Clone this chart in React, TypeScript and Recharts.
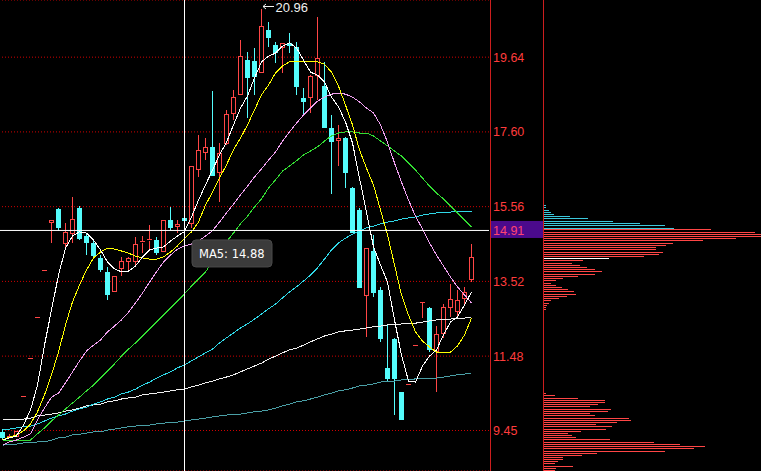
import React from 'react';
import {
  ComposedChart,
  Bar,
  Line,
  Scatter,
  XAxis,
  YAxis,
  CartesianGrid,
  ReferenceLine,
  ReferenceDot,
} from 'recharts';

// daily candles, oldest first
const openPrice = [
  9.41, 9.29, 9.3, 10.38, 11.42, 12.56, 13.82, 15.13, 15.5, 14.57,
  14.84, 15.52, 14.76, 14.57, 14.16, 13.78, 13.26, 13.89, 14.08, 14.08,
  14.6, 14.64, 14.65, 14.35, 15.2, 15.03, 15.25, 15.11, 16.59, 17.05,
  17.19, 16.51, 17.3, 18.12, 18.63, 19.56, 19.53, 19.23, 20.38, 19.97,
  19.92, 20.03, 19.92, 18.53, 18.55, 19.15, 18.85, 17.71, 17.38, 17.43,
  16.07, 15.47, 13.15, 14.35, 13.29, 11.16, 11.95, 10.5, 10.71, 11.78,
  12.96, 12.79, 11.62, 12.11, 12.82, 12.71, 13.07, 13.59,
];
const highPrice = [
  9.49, 9.36, 9.44, 10.38, 11.42, 12.56, 13.82, 15.2, 15.52, 15.11,
  15.82, 15.58, 14.84, 14.65, 14.24, 13.91, 13.67, 14.19, 14.19, 14.73,
  14.76, 15.06, 14.73, 15.2, 15.55, 15.2, 15.41, 16.67, 17.52, 17.43,
  18.72, 17.3, 18.2, 18.74, 20.11, 19.78, 19.89, 20.96, 20.6, 20.05,
  20.03, 20.3, 20.05, 18.8, 19.15, 20.74, 19.51, 18.06, 17.79, 17.46,
  16.1, 15.52, 14.43, 14.79, 13.37, 12.33, 11.97, 10.5, 10.71, 11.78,
  12.96, 12.82, 12.3, 12.9, 13.45, 13.29, 13.37, 14.54,
];
const lowPrice = [
  9.22, 9.25, 9.3, 10.38, 11.42, 12.56, 13.82, 14.57, 14.9, 14.46,
  14.57, 14.65, 14.24, 14.16, 13.78, 13.01, 13.24, 13.67, 13.78, 13.91,
  14.3, 14.38, 14.24, 14.35, 14.92, 14.84, 14.98, 14.98, 16.37, 16.83,
  16.4, 15.69, 17.24, 17.92, 18.63, 17.98, 18.61, 19.23, 19.92, 19.48,
  19.21, 19.75, 18.61, 18.06, 18.12, 18.47, 17.71, 15.9, 16.67, 16.07,
  14.84, 13.34, 12.0, 13.09, 11.87, 10.77, 9.87, 9.74, 10.71, 11.78,
  12.52, 11.6, 10.5, 11.97, 12.55, 12.52, 12.88, 13.5,
];
const closePrice = [
  9.25, 9.31, 9.44, 10.38, 11.42, 12.56, 13.82, 15.2, 14.98, 14.87,
  15.22, 14.68, 14.57, 14.21, 13.83, 13.15, 13.67, 14.08, 14.16, 14.54,
  14.63, 14.67, 14.3, 15.2, 14.98, 15.09, 15.17, 16.67, 17.11, 17.19,
  16.4, 17.02, 18.09, 18.55, 19.67, 19.07, 19.1, 20.49, 20.16, 19.75,
  20.03, 19.95, 18.83, 18.42, 19.13, 19.62, 17.71, 17.32, 17.42, 16.48,
  14.84, 13.34, 14.43, 13.2, 11.95, 10.86, 10.86, 9.74, 10.71, 11.78,
  12.96, 11.65, 12.08, 12.82, 13.04, 13.01, 13.23, 14.19,
];

// moving averages as drawn on the chart
const ma5 = [
  9.19, 9.25, 9.3, 9.6, 10.01, 10.69, 11.78, 12.74, 13.69, 14.43,
  14.76, 14.87, 14.84, 14.65, 14.38, 14.05, 13.86, 13.78, 13.8, 13.94,
  14.19, 14.38, 14.43, 14.46, 14.62, 14.76, 14.88, 15.28, 15.74, 16.15,
  16.56, 16.97, 17.32, 17.79, 18.25, 18.58, 19.07, 19.51, 19.67, 19.75,
  19.94, 20.03, 19.89, 19.56, 19.23, 19.15, 18.96, 18.55, 18.28, 17.87,
  17.3, 16.34, 15.41, 14.46, 13.97, 13.5, 12.47, 11.51, 10.8, 10.77,
  11.21, 11.48, 11.65, 12.06, 12.41, 12.55, 12.88, 13.23,
];
const ma10 = [
  9.19, 9.27, 9.33, 9.44, 9.63, 9.96, 10.42, 10.97, 11.59, 12.33,
  12.96, 13.42, 13.83, 14.16, 14.32, 14.43, 14.4, 14.35, 14.29, 14.21,
  14.16, 14.13, 14.13, 14.19, 14.32, 14.49, 14.7, 14.87, 15.14, 15.6,
  15.96, 16.34, 16.7, 17.11, 17.43, 17.79, 18.2, 18.61, 18.88, 19.21,
  19.4, 19.51, 19.51, 19.51, 19.51, 19.51, 19.45, 19.23, 18.85, 18.33,
  17.79, 17.11, 16.61, 16.15, 15.47, 14.79, 13.97, 13.15, 12.6, 12.14,
  11.89, 11.73, 11.59, 11.57, 11.59, 11.76, 12.06, 12.52,
];
const ma20 = [
  9.05, 9.14, 9.19, 9.27, 9.36, 9.74, 10.06, 10.36, 10.47, 10.75,
  11.05, 11.35, 11.62, 11.78, 11.92, 12.14, 12.3, 12.47, 12.68, 12.93,
  13.2, 13.5, 13.78, 14.05, 14.24, 14.4, 14.49, 14.54, 14.62, 14.76,
  14.9, 15.14, 15.39, 15.63, 15.88, 16.12, 16.37, 16.59, 16.83, 17.05,
  17.35, 17.6, 17.84, 18.06, 18.25, 18.44, 18.55, 18.63, 18.66, 18.63,
  18.55, 18.42, 18.25, 18.12, 17.79, 17.32, 16.75, 16.23, 15.74, 15.3,
  14.95, 14.57, 14.24, 13.94, 13.64, 13.37, 13.15, 12.93,
];
const ma30 = [
  9.19, 9.19, 9.19, 9.19, 9.19, 9.36, 9.52, 9.71, 9.87, 10.04,
  10.2, 10.36, 10.53, 10.69, 10.88, 11.07, 11.27, 11.48, 11.67, 11.84,
  12.03, 12.22, 12.41, 12.6, 12.79, 12.98, 13.18, 13.39, 13.59, 13.78,
  14.05, 14.32, 14.6, 14.84, 15.09, 15.3, 15.55, 15.77, 16.07, 16.29,
  16.53, 16.67, 16.81, 16.97, 17.08, 17.19, 17.35, 17.49, 17.57, 17.6,
  17.6, 17.57, 17.57, 17.49, 17.35, 17.22, 17.08, 16.94, 16.75, 16.56,
  16.34, 16.12, 15.93, 15.77, 15.58, 15.39, 15.2, 15.0,
];
const ma60 = [
  9.49, 9.49, 9.52, 9.55, 9.57, 9.63, 9.71, 9.79, 9.85, 9.9,
  9.98, 10.04, 10.09, 10.17, 10.23, 10.31, 10.36, 10.45, 10.5, 10.58,
  10.69, 10.77, 10.88, 10.97, 11.05, 11.16, 11.24, 11.35, 11.46, 11.57,
  11.67, 11.84, 11.98, 12.11, 12.25, 12.36, 12.49, 12.63, 12.77, 12.9,
  13.07, 13.23, 13.37, 13.53, 13.69, 13.89, 14.13, 14.38, 14.57, 14.7,
  14.81, 14.9, 14.98, 15.03, 15.09, 15.14, 15.17, 15.22, 15.25, 15.28,
  15.33, 15.36, 15.39, 15.41, 15.41, 15.44, 15.44, 15.44,
];
const ma120 = [
  9.76, 9.76, 9.76, 9.76, 9.79, 9.85, 9.87, 9.9, 9.93, 9.98,
  10.01, 10.06, 10.12, 10.15, 10.17, 10.23, 10.26, 10.31, 10.34, 10.36,
  10.42, 10.45, 10.47, 10.5, 10.53, 10.56, 10.58, 10.64, 10.69, 10.75,
  10.8, 10.86, 10.91, 10.97, 11.05, 11.13, 11.21, 11.29, 11.4, 11.48,
  11.57, 11.65, 11.7, 11.78, 11.87, 11.95, 12.03, 12.08, 12.14, 12.17,
  12.19, 12.22, 12.25, 12.28, 12.3, 12.33, 12.33, 12.36, 12.38, 12.38,
  12.41, 12.44, 12.47, 12.47, 12.49, 12.52, 12.52, 12.55,
];
const ma250 = [
  9.05, 9.08, 9.08, 9.11, 9.11, 9.14, 9.14, 9.19, 9.25, 9.27,
  9.33, 9.35, 9.38, 9.41, 9.41, 9.46, 9.49, 9.52, 9.55, 9.57,
  9.6, 9.6, 9.63, 9.65, 9.68, 9.68, 9.71, 9.74, 9.76, 9.79,
  9.82, 9.85, 9.87, 9.9, 9.9, 9.93, 9.96, 9.98, 10.01, 10.06,
  10.12, 10.17, 10.23, 10.26, 10.31, 10.36, 10.42, 10.47, 10.53, 10.56,
  10.61, 10.67, 10.69, 10.72, 10.77, 10.8, 10.8, 10.83, 10.83, 10.86,
  10.86, 10.88, 10.88, 10.91, 10.94, 10.97, 10.99, 11.02,
];

const priceTicks = [19.64, 17.6, 15.56, 13.52, 11.48, 9.45];
const cursorPrice = 14.91;
const cursorIndex = 26;
const cursorMa5 = 14.88;
const peakIndex = 37;

// chip distribution (price level -> volume)
const chipPrice = [
  15.6, 15.54, 15.47, 15.41, 15.36, 15.3, 15.24, 15.18, 15.11, 15.05,
  14.99, 14.94, 14.88, 14.81, 14.75, 14.7, 14.64, 14.58, 14.51, 14.46,
  14.4, 14.33, 14.28, 14.21, 14.15, 14.1, 14.03, 13.97, 13.91, 13.85,
  13.8, 13.73, 13.67, 13.6, 13.55, 13.48, 13.42, 13.37, 13.3, 13.25,
  13.18, 13.12, 13.07, 13.0, 12.94, 12.88, 12.82, 12.76,
  10.47, 10.41, 10.35, 10.29, 10.23, 10.17, 10.11, 10.05, 9.98, 9.93,
  9.87, 9.8, 9.75, 9.68, 9.62, 9.56, 9.5, 9.45, 9.38, 9.32,
  9.26, 9.21, 9.14, 9.08, 9.03, 8.96, 8.9, 8.84, 8.78, 8.73,
  8.66, 8.61, 8.55, 8.49, 8.44, 8.37,
];
const chipVolume = [
  2, 2, 5, 7, 10, 26, 44, 69, 96, 121,
  130, 167, 211, 218, 218, 192, 159, 129, 122, 112,
  112, 119, 115, 100, 65, 39, 28, 36, 43, 51,
  58, 51, 34, 19, 12, 7, 12, 18, 24, 30,
  32, 23, 15, 7, 5, 3, 2, 2,
  2, 11, 34, 61, 61, 54, 46, 67, 64, 46,
  51, 85, 87, 73, 52, 68, 62, 37, 24, 28,
  32, 66, 110, 136, 161, 150, 121, 53, 38, 19,
  19, 14, 11, 29, 12, 11,
];
const chipSplit = 14.97;
const avgCost = 14.15;

const UP = '#ff4646';
const DOWN = '#54fcfc';
const FRAME = '#cc1e1e';
const AXIS_FONT = '"Liberation Sans", Arial, sans-serif';
const PRICE_DOMAIN: [number, number] = [8.345, 21.2];
const SLOTS = 70;

const rows = Array.from({ length: SLOTS }, (_, i) => {
  if (i >= openPrice.length) return { i };
  return {
    i,
    range: [lowPrice[i], highPrice[i]],
    open: openPrice[i],
    high: highPrice[i],
    low: lowPrice[i],
    close: closePrice[i],
    ma5: ma5[i],
    ma10: ma10[i],
    ma20: ma20[i],
    ma30: ma30[i],
    ma60: ma60[i],
    ma120: ma120[i],
    ma250: ma250[i],
  };
});

const chips = chipPrice.map((price, k) => ({
  price,
  volume: chipVolume[k],
  color: price === avgCost ? '#ffffff' : price > chipSplit ? '#3cc8dc' : UP,
}));

const maLines = [
  { key: 'ma250', color: '#4a9fa6' },
  { key: 'ma120', color: '#f0f0f0' },
  { key: 'ma60', color: '#30d8e8' },
  { key: 'ma30', color: '#33dd33' },
  { key: 'ma20', color: '#f0a0f0' },
  { key: 'ma10', color: '#ffff00' },
  { key: 'ma5', color: '#ffffff' },
];

function Candle(props: any) {
  const { x, y, height, payload } = props;
  if (!payload || payload.open == null) return null;
  const { open, high, low, close } = payload;
  const span = high - low;
  const py = (v: number) =>
    Math.round(span > 0 ? y + ((high - v) / span) * height : y);
  const left = Math.round(x) + 1;
  const mid = left + 2.5;
  const top = py(Math.max(open, close));
  const bottom = py(Math.min(open, close));
  const yHigh = py(high);
  const yLow = py(low);

  if (close >= open) {
    return (
      <g>
        {yHigh < top && <line x1={mid} x2={mid} y1={yHigh} y2={top} stroke={UP} />}
        {yLow > bottom && <line x1={mid} x2={mid} y1={bottom + 1} y2={yLow} stroke={UP} />}
        {bottom - top < 2 ? (
          <line x1={left} x2={left + 5} y1={top + 0.5} y2={top + 0.5} stroke={UP} />
        ) : (
          <rect x={left + 0.5} y={top + 0.5} width={4} height={bottom - top} fill="#000" stroke={UP} />
        )}
      </g>
    );
  }
  return (
    <g>
      <line x1={mid} x2={mid} y1={yHigh} y2={yLow} stroke={DOWN} />
      <rect x={left} y={top} width={5} height={Math.max(1, bottom - top)} fill={DOWN} />
    </g>
  );
}

function PriceTick(props: any) {
  const { x, y, payload } = props;
  return (
    <text x={x} y={y} dy="0.36em" fill="#ff3c3c" fontSize={12.5} fontFamily={AXIS_FONT} textAnchor="start">
      {Number(payload.value).toFixed(2)}
    </text>
  );
}

function CursorTag(props: any) {
  const vb = props.viewBox;
  if (!vb) return null;
  const left = vb.x + vb.width + 1;
  const cy = vb.y;
  return (
    <g>
      <rect x={left} y={cy - 9.5} width={53} height={17} fill="#4b0a8c" />
      <text x={left + 3} y={cy + 4.5} fill="#ff4470" fontSize={12.5} fontFamily={AXIS_FONT}>
        {cursorPrice.toFixed(2)}
      </text>
    </g>
  );
}

function PeakMark(props: any) {
  const { cx, cy } = props;
  const ay = Math.round(cy) - 2.5;
  return (
    <g>
      <line x1={cx + 1.5} x2={cx + 12.5} y1={ay} y2={ay} stroke="#f0f0f0" />
      <polyline
        points={`${cx + 4.5},${ay - 2.5} ${cx + 1.5},${ay} ${cx + 4.5},${ay + 2.5}`}
        fill="none"
        stroke="#f0f0f0"
      />
      <text x={cx + 14} y={ay + 5.5} fill="#f0f0f0" fontSize={13} fontFamily={AXIS_FONT}>
        {highPrice[peakIndex].toFixed(2)}
      </text>
    </g>
  );
}

function Ma5Tip(props: any) {
  const { cx, cy } = props;
  const bx = cx + 7.5;
  const by = cy + 9.5;
  return (
    <g>
      <rect x={bx} y={by} width={80} height={27} rx={4} fill="#3b3b3b" stroke="#4a4a4a" />
      <text x={bx + 7} y={by + 18.5} fill="#ffffff" fontSize={11.5} fontFamily='"DejaVu Sans", Verdana, sans-serif'>
        {`MA5: ${cursorMa5.toFixed(2)}`}
      </text>
    </g>
  );
}

function ChipBar(props: any) {
  const { cx, cy, payload } = props;
  const yy = Math.round(cy) + 0.5;
  return <line x1={0} x2={Math.max(1, cx)} y1={yy} y2={yy} stroke={payload.color} />;
}

export default function App() {
  return (
    <div style={{ position: 'absolute', left: 0, top: 0, width: 761, height: 471, background: '#000', overflow: 'hidden' }}>
      <div style={{ position: 'absolute', left: -1, top: 0 }}>
        <ComposedChart
          width={545}
          height={471}
          data={rows}
          margin={{ top: 0, right: 0, bottom: 0, left: 0 }}
          barCategoryGap={0}
          barGap={0}
        >
          <CartesianGrid vertical={false} stroke="#d00000" strokeDasharray="1 2" />
          <XAxis dataKey="i" type="category" hide />
          <YAxis
            orientation="right"
            type="number"
            width={55}
            domain={PRICE_DOMAIN}
            allowDataOverflow
            ticks={priceTicks}
            interval={0}
            axisLine={false}
            tickLine={false}
            tickSize={0}
            tickMargin={4}
            tick={<PriceTick />}
          />
          <Bar dataKey="range" shape={Candle} isAnimationActive={false} />
          {maLines.map((m) => (
            <Line
              key={m.key}
              type="linear"
              dataKey={m.key}
              stroke={m.color}
              strokeWidth={1}
              shapeRendering="crispEdges"
              dot={false}
              activeDot={false}
              isAnimationActive={false}
            />
          ))}
          <ReferenceLine x={cursorIndex} stroke="#ffffff" />
          <ReferenceLine y={cursorPrice} stroke="#ffffff" label={<CursorTag />} />
          <ReferenceDot x={peakIndex} y={highPrice[peakIndex]} r={0} shape={PeakMark} />
          <ReferenceDot x={cursorIndex} y={cursorPrice} r={0} shape={Ma5Tip} />
        </ComposedChart>
      </div>
      <div style={{ position: 'absolute', left: 490, top: 0, width: 1, height: 471, background: FRAME }} />
      <div style={{ position: 'absolute', left: 543, top: 0, width: 1, height: 471, background: FRAME }} />
      <div style={{ position: 'absolute', left: 544, top: 0 }}>
        <ComposedChart width={217} height={471} data={chips} margin={{ top: 0, right: 0, bottom: 0, left: 0 }}>
          <XAxis type="number" dataKey="volume" domain={[0, 217]} allowDataOverflow hide />
          <YAxis type="number" dataKey="price" domain={PRICE_DOMAIN} allowDataOverflow hide />
          <Scatter data={chips} dataKey="price" shape={ChipBar} isAnimationActive={false} />
        </ComposedChart>
      </div>
    </div>
  );
}
